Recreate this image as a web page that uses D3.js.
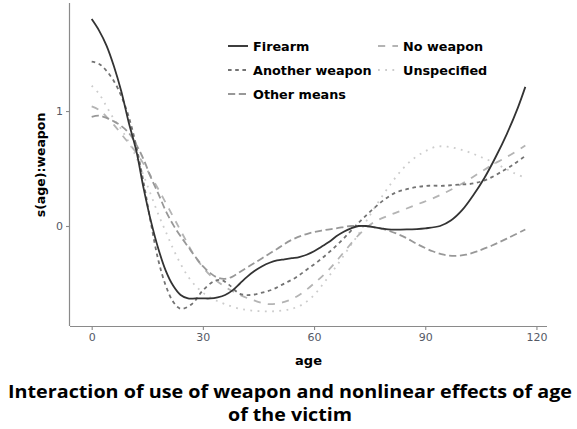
<!DOCTYPE html>
<html><head><meta charset="utf-8">
<script src="https://cdn.jsdelivr.net/npm/d3@7"></script>
<style>body{margin:0;background:#fff}svg{display:block}</style>
</head><body><svg id="c" width="577" height="429"></svg>
<script>
const seriesNames = ["Firearm","Another weapon","Other means","No weapon","Unspecified"];
const firearmAge = [0,2,4,6,8,10,12,14,16,18,20,22,24,26,28,30,32,34,36,38,40,42,44,46,48,50,52,54,56,58,60,62,64,66,68,70,72,74,76,78,80,85,90,94,97,100,103,106,109,112,115,117];
const firearmVal = [1.80,1.70,1.57,1.39,1.17,0.90,0.66,0.33,0.04,-0.20,-0.39,-0.52,-0.60,-0.63,-0.63,-0.63,-0.63,-0.62,-0.60,-0.56,-0.50,-0.44,-0.39,-0.35,-0.32,-0.30,-0.29,-0.28,-0.27,-0.25,-0.22,-0.18,-0.14,-0.09,-0.05,-0.02,0.0,0.0,-0.01,-0.02,-0.03,-0.03,-0.02,0.0,0.05,0.14,0.27,0.42,0.60,0.80,1.03,1.21];
const anotherAge = [0,2,4,6,8,10,12,14,16,18,20,22,24,27,30,33,35,37,40,43,46,49,52,55,58,61,64,67,70,73,76,79,82,85,88,91,95,99,103,107,111,114,117];
const anotherVal = [1.43,1.41,1.35,1.26,1.13,0.95,0.70,0.38,0.02,-0.30,-0.52,-0.66,-0.72,-0.68,-0.56,-0.48,-0.47,-0.51,-0.59,-0.60,-0.58,-0.55,-0.50,-0.45,-0.38,-0.31,-0.23,-0.14,-0.04,0.06,0.15,0.23,0.29,0.32,0.34,0.35,0.35,0.36,0.37,0.41,0.48,0.54,0.61];
const otherAge = [0,2,4,6,8,10,12,14,16,18,20,22,24,26,28,30,32,34,36,38,40,43,46,50,54,58,62,66,70,73,76,80,84,88,92,95,98,101,104,108,112,117];
const otherVal = [0.95,0.96,0.94,0.91,0.87,0.81,0.71,0.58,0.42,0.28,0.13,0.01,-0.09,-0.18,-0.27,-0.35,-0.41,-0.45,-0.46,-0.44,-0.40,-0.34,-0.28,-0.20,-0.12,-0.07,-0.04,-0.02,0.0,0.0,-0.01,-0.04,-0.09,-0.16,-0.22,-0.25,-0.26,-0.25,-0.22,-0.17,-0.11,-0.03];
const noWeaponAge = [0,2,4,6,8,10,12,14,16,18,20,22,24,28,32,36,40,44,48,52,56,60,64,68,72,76,80,84,88,92,96,100,104,108,112,117];
const noWeaponVal = [1.04,1.01,0.95,0.88,0.80,0.72,0.64,0.54,0.43,0.32,0.20,0.08,-0.04,-0.27,-0.43,-0.53,-0.60,-0.65,-0.68,-0.66,-0.60,-0.50,-0.38,-0.23,-0.08,0.03,0.09,0.14,0.19,0.24,0.30,0.37,0.45,0.53,0.60,0.70];
const unspecAge = [0,2,4,6,8,10,12,14,16,18,20,22,24,26,28,30,33,36,40,45,50,54,57,60,63,66,69,72,75,78,81,84,87,90,93,96,99,102,105,108,111,114,117];
const unspecVal = [1.22,1.15,1.04,0.93,0.84,0.73,0.60,0.44,0.27,0.10,-0.05,-0.20,-0.33,-0.44,-0.52,-0.58,-0.64,-0.68,-0.72,-0.74,-0.74,-0.72,-0.68,-0.60,-0.48,-0.35,-0.21,-0.07,0.09,0.24,0.38,0.50,0.59,0.65,0.69,0.69,0.67,0.64,0.60,0.56,0.51,0.46,0.42];
const xTicks = [0,30,60,90,120];
const yTicks = [0,1];

const colors = ["#333333","#737373","#989898","#b4b4b4","#cccccc"];
const dashes = [null,"3.6,3.6","7.2,3.6","7.2,7.2","1.8,5.4"];
const ages = [firearmAge,anotherAge,otherAge,noWeaponAge,unspecAge];
const vals = [firearmVal,anotherVal,otherVal,noWeaponVal,unspecVal];

const svg = d3.select("#c");
svg.append("rect").attr("width",577).attr("height",429).attr("fill","#fff");
const L=70,R=547,T=3,B=326;
const x = d3.scaleLinear().domain([-5.85,122.85]).range([L,R]);
const y = d3.scaleLinear().domain([-0.87,1.94]).range([B,T]);

const axisCol="#8a8a8a", tickText="#555a66";
const xa = svg.append("g").attr("transform",`translate(0,${B})`)
  .call(d3.axisBottom(x).tickValues(xTicks).tickSize(4).tickPadding(3).tickFormat(d3.format("d")));
const ya = svg.append("g").attr("transform",`translate(${L},0)`)
  .call(d3.axisLeft(y).tickValues(yTicks).tickSize(4).tickPadding(3).tickFormat(d3.format("d")));
[xa,ya].forEach(g=>{
  g.select(".domain").attr("stroke",axisCol).attr("stroke-width",1.2);
  g.selectAll(".tick line").attr("stroke",axisCol).attr("stroke-width",1.1);
  g.selectAll(".tick text").attr("fill",tickText).attr("font-family","DejaVu Sans").attr("font-size",11);
});
xa.select(".domain").attr("d",`M${L},0.5H${R}`);
ya.select(".domain").attr("d",`M-0.5,${T}V${B}`);

const line = d3.line().x(d=>x(d[0])).y(d=>y(d[1])).curve(d3.curveCatmullRom.alpha(0.5));
for(let i=seriesNames.length-1;i>=0;i--){
  const pts = ages[i].map((a,j)=>[a,vals[i][j]]);
  svg.append("path").attr("d",line(pts)).attr("fill","none")
    .attr("stroke",colors[i]).attr("stroke-width",1.8)
    .attr("stroke-dasharray",dashes[i]);
}

const legPos = [[228,46],[228,70],[228,94],[378,46],[378,70]];
seriesNames.forEach((n,i)=>{
  const [lx,ly]=legPos[i];
  svg.append("line").attr("x1",lx).attr("x2",lx+20).attr("y1",ly).attr("y2",ly)
    .attr("stroke",colors[i]).attr("stroke-width",1.9).attr("stroke-dasharray",dashes[i]);
  svg.append("text").attr("x",lx+25).attr("y",ly+4.5).text(n)
    .attr("font-family","DejaVu Sans").attr("font-weight","bold").attr("font-size",12.8).attr("fill","#000");
});

svg.append("text").attr("x",(L+R)/2).attr("y",365).attr("text-anchor","middle").text("age")
  .attr("font-family","DejaVu Sans").attr("font-weight","bold").attr("font-size",13);
svg.append("text").attr("transform",`translate(45,165) rotate(-90)`).attr("text-anchor","middle").text("s(age):weapon")
  .attr("font-family","DejaVu Sans").attr("font-weight","bold").attr("font-size",12.5);

svg.append("text").attr("x",290).attr("y",398).attr("text-anchor","middle")
  .text("Interaction of use of weapon and nonlinear effects of age")
  .attr("font-family","Open Sans").attr("font-weight",700).attr("font-size",17.5)
  .attr("textLength",564).attr("lengthAdjust","spacingAndGlyphs");
svg.append("text").attr("x",290).attr("y",421).attr("text-anchor","middle")
  .text("of the victim")
  .attr("font-family","Open Sans").attr("font-weight",700).attr("font-size",17.5)
  .attr("textLength",124).attr("lengthAdjust","spacingAndGlyphs");
</script></body></html>
